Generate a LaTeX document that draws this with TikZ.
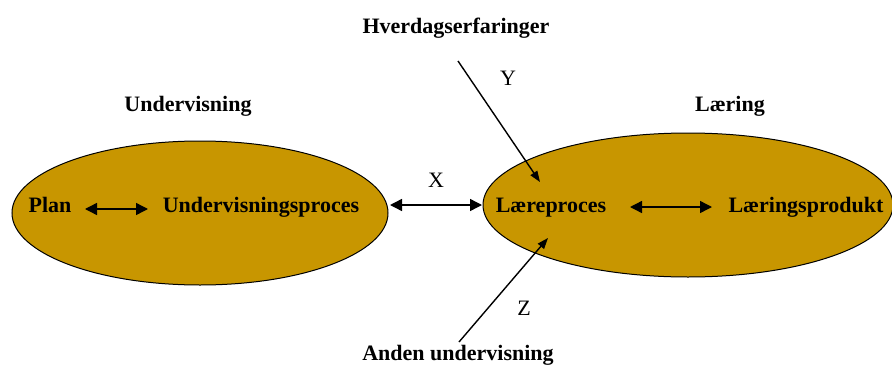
\documentclass[tikz,border=0pt]{standalone}
\usepackage{fontspec}
\setmainfont{Liberation Serif}
\usetikzlibrary{shapes.geometric,arrows.meta}
\definecolor{gold}{RGB}{200,150,0}
\tikzset{
  blob/.style={ellipse, draw=black, line width=1pt, fill=gold, inner sep=0pt},
  lbl/.style={font=\fontsize{22}{26}\selectfont\bfseries, inner sep=0pt},
  let/.style={font=\fontsize{22}{26}\selectfont, inner sep=0pt},
  harr/.style={line width=1.4pt, {Triangle[length=12pt,width=12pt]}-{Triangle[length=12pt,width=12pt]}},
  darr/.style={line width=1.4pt, -{Triangle[length=11pt,width=8pt]}}
}
\begin{document}
\begin{tikzpicture}[x=1pt,y=-1pt]
\useasboundingbox (0,0) rectangle (892,367);
\node[blob, minimum width=376pt, minimum height=144pt] (lell) at (200,213) {};
\node[blob, minimum width=410pt, minimum height=144pt] (rell) at (688,205) {};
\node[lbl, anchor=base] (plan) at (50,212) {Plan};
\node[lbl, anchor=base] (uproc) at (261,212) {Undervisningsproces};
\node[lbl, anchor=base] (lproc) at (551,212) {Læreproces};
\node[lbl, anchor=base] (lprod) at (806,212) {Læringsprodukt};
\node[lbl, anchor=base] (under) at (188,111) {Undervisning};
\node[lbl, anchor=base] (laer) at (730,111) {Læring};
\node[lbl, anchor=base] (hverd) at (456,33) {Hverdagserfaringer};
\node[lbl, anchor=base] (anden) at (458,360) {Anden undervisning};
\node[let] (x) at (436,180) {X};
\node[let] (y) at (508,78) {Y};
\node[let] (z) at (524,308) {Z};
\coordinate (ys) at (458,61);
\coordinate (ye) at (540,182);
\coordinate (zs) at (459,342);
\coordinate (ze) at (548,238);
\coordinate (p1) at (85,209);
\coordinate (p2) at (148,209);
\coordinate (q1) at (630,207);
\coordinate (q2) at (712,207);
\coordinate (x1) at (390,205);
\coordinate (x2) at (482,205);
\draw[harr] (p1) -- (p2);
\draw[harr] (q1) -- (q2);
\draw[harr] (x1) -- (x2);
\draw[darr] (ys) -- (ye);
\draw[darr] (zs) -- (ze);
\end{tikzpicture}
\end{document}
